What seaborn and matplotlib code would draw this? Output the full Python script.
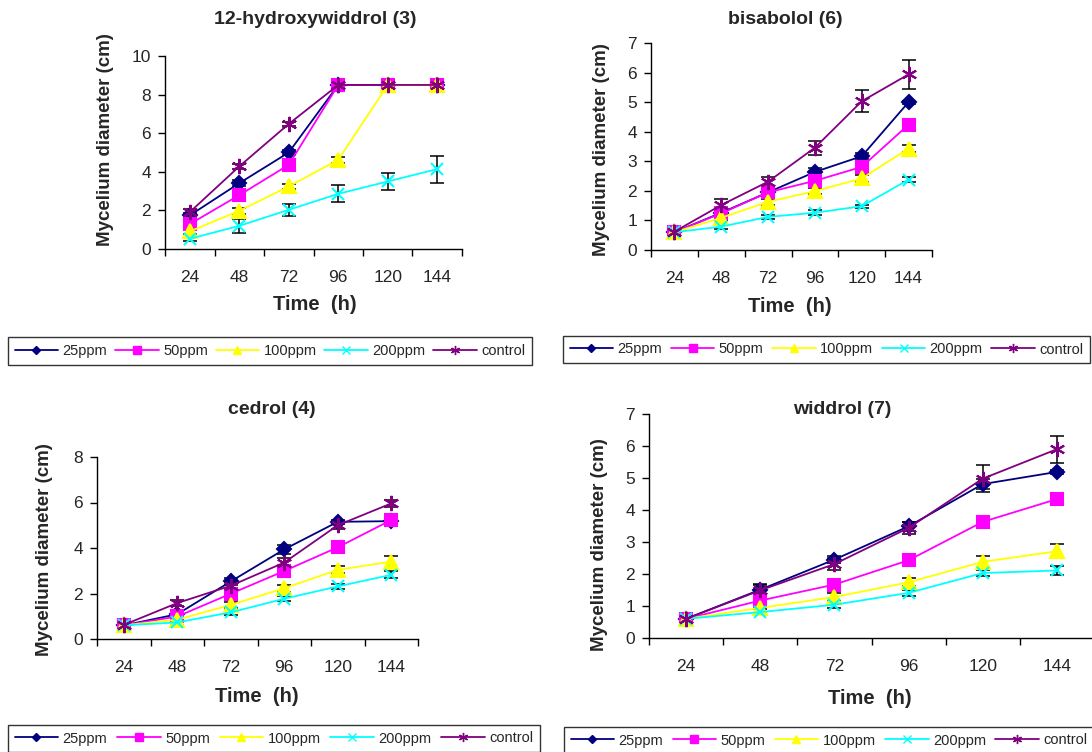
import numpy as np
import pandas as pd
import seaborn as sns
import matplotlib.pyplot as plt
from matplotlib.lines import Line2D

times = ['24', '48', '72', '96', '120', '144']
series = ['25ppm', '50ppm', '100ppm', '200ppm', 'control']
colors = ['#000080', '#FF00FF', '#FFFF00', '#00FFFF', '#800080']
markers = ['D', 's', '^', 'x', (6, 2, 0)]
msizes = [7.5, 8.5, 10, 9, 11]

# 12-hydroxywiddrol (3): rows follow `series`
hw_mean = [[1.74, 3.41, 5.00, 8.50, 8.50, 8.50],
           [1.29, 2.79, 4.36, 8.50, 8.50, 8.50],
           [0.91, 1.98, 3.24, 4.62, 8.50, 8.50],
           [0.53, 1.20, 2.03, 2.86, 3.50, 4.14],
           [1.91, 4.28, 6.48, 8.50, 8.50, 8.50]]
hw_err = [[0.15, 0.15, 0.15, 0.05, 0.05, 0.05],
          [0.15, 0.20, 0.30, 0.05, 0.05, 0.05],
          [0.15, 0.15, 0.15, 0.15, 0.05, 0.05],
          [0.10, 0.35, 0.32, 0.45, 0.42, 0.70],
          [0.15, 0.15, 0.10, 0.05, 0.05, 0.05]]

# bisabolol (6)
bis_mean = [[0.60, 1.26, 1.95, 2.64, 3.17, 5.00],
            [0.60, 1.24, 1.95, 2.34, 2.81, 4.24],
            [0.60, 1.09, 1.63, 1.99, 2.42, 3.43],
            [0.60, 0.79, 1.12, 1.26, 1.48, 2.38],
            [0.62, 1.52, 2.31, 3.46, 5.03, 5.94]]
bis_err = [[0.05, 0.10, 0.10, 0.12, 0.10, 0.05],
           [0.05, 0.10, 0.12, 0.10, 0.12, 0.08],
           [0.05, 0.08, 0.10, 0.10, 0.12, 0.12],
           [0.05, 0.08, 0.06, 0.08, 0.05, 0.08],
           [0.05, 0.21, 0.15, 0.24, 0.38, 0.48]]

# cedrol (4)
ced_mean = [[0.60, 1.09, 2.53, 3.94, 5.15, 5.18],
            [0.60, 0.99, 1.99, 2.99, 4.03, 5.23],
            [0.60, 0.85, 1.50, 2.23, 3.04, 3.40],
            [0.60, 0.73, 1.17, 1.77, 2.31, 2.82],
            [0.62, 1.58, 2.34, 3.36, 5.00, 5.96]]
ced_err = [[0.05, 0.10, 0.15, 0.20, 0.10, 0.10],
           [0.05, 0.10, 0.12, 0.15, 0.10, 0.10],
           [0.05, 0.10, 0.12, 0.15, 0.15, 0.27],
           [0.05, 0.10, 0.10, 0.10, 0.10, 0.15],
           [0.05, 0.12, 0.15, 0.20, 0.15, 0.15]]

# widdrol (7)
wid_mean = [[0.60, 1.51, 2.45, 3.49, 4.81, 5.19],
            [0.60, 1.17, 1.67, 2.43, 3.63, 4.34],
            [0.60, 0.94, 1.28, 1.74, 2.38, 2.71],
            [0.60, 0.81, 1.04, 1.41, 2.03, 2.11],
            [0.60, 1.49, 2.31, 3.44, 4.98, 5.90]]
wid_err = [[0.03, 0.15, 0.10, 0.15, 0.15, 0.05],
           [0.03, 0.15, 0.10, 0.08, 0.12, 0.10],
           [0.03, 0.15, 0.12, 0.12, 0.17, 0.22],
           [0.03, 0.10, 0.10, 0.10, 0.10, 0.15],
           [0.03, 0.20, 0.20, 0.20, 0.42, 0.42]]

W, H = 1092, 752

sns.set_style('ticks')
plt.rcParams['font.family'] = ['Liberation Sans', 'DejaVu Sans']

fig = plt.figure(figsize=(W / 100, H / 100), dpi=100)


def ftext(x, y, s, **kw):
    fig.text(x / W, 1 - y / H, s, ha='center', va='center', **kw)


# title, means, errors, ymax, ystep, axes box (x0, x1, ytop, ybot),
# title pos, ylabel pos, xlabel pos, legend box (x0, x1, ytop, ybot)
panels = [
    ('12-hydroxywiddrol (3)', hw_mean, hw_err, 10, 2, (165, 462, 56, 249),
     (315, 19), (105, 140), (315, 305), (8, 532, 336, 366)),
    ('bisabolol (6)', bis_mean, bis_err, 7, 1, (651, 932, 43, 250),
     (785, 19), (602, 150), (790, 307), (563, 1090, 333, 366)),
    ('cedrol (4)', ced_mean, ced_err, 8, 2, (97, 418, 457, 639),
     (272, 410), (45, 550), (257, 697), (8, 540, 726, 751)),
    ('widdrol (7)', wid_mean, wid_err, 7, 1, (649, 1094, 414, 638),
     (842, 410), (600, 545), (870, 698), (564, 1094, 725, 756)),
]

for title, mean, err, ymax, ystep, box, tpos, ypos, xpos, lbox in panels:
    x0, x1, yt, yb = box
    ax = fig.add_axes([x0 / W, 1 - yb / H, (x1 - x0) / W, (yb - yt) / H])
    ax.set_facecolor('white')
    pos = np.arange(len(times))
    for i, name in enumerate(series):
        df = pd.DataFrame({'pos': pos, 'value': mean[i]})
        ax.errorbar(pos, mean[i], yerr=err[i], fmt='none', ecolor='black',
                    elinewidth=1.1, capsize=5, capthick=1.1, zorder=2)
        sns.lineplot(data=df, x='pos', y='value', ax=ax, color=colors[i],
                     marker=markers[i], markersize=msizes[i],
                     markeredgecolor=colors[i], markeredgewidth=1.5,
                     linewidth=1.3, sort=False, legend=False, zorder=3)
    ax.set_xlim(-0.5, len(times) - 0.5)
    ax.set_ylim(0, ymax)
    ax.set_yticks(np.arange(0, ymax + 0.1, ystep))
    ax.set_xticks(np.arange(-0.5, len(times)), labels=[])
    ax.set_xticks(pos, labels=times, minor=True)
    ax.tick_params(axis='x', which='major', length=5, width=1, color='black', direction='out')
    ax.tick_params(axis='x', which='minor', length=0, pad=15, labelsize=12.5)
    ax.tick_params(axis='y', length=5, width=1, color='black', pad=5, labelsize=12.5)
    for s in ['top', 'right']:
        ax.spines[s].set_visible(False)
    for s in ['left', 'bottom']:
        ax.spines[s].set_color('black')
        ax.spines[s].set_linewidth(1)
    ax.set_xlabel('')
    ax.set_ylabel('')
    ftext(*tpos, title, fontsize=14, fontweight='bold')
    ftext(*ypos, 'Mycelium diameter (cm)', fontsize=13.5, fontweight='bold', rotation=90)
    ftext(*xpos, 'Time  (h)', fontsize=14.5, fontweight='bold')

    handles = [Line2D([], [], color=colors[i], marker=markers[i], markersize=msizes[i] * 0.6,
                      markeredgecolor=colors[i], linewidth=1.3) for i in range(len(series))]
    lx0, lx1, lyt, lyb = lbox
    leg = fig.legend(handles, series, loc='center', ncol=5, mode='expand',
                     bbox_to_anchor=(lx0 / W, 1 - lyb / H, (lx1 - lx0) / W, (lyb - lyt) / H),
                     fontsize=10.5, frameon=True, fancybox=False, edgecolor='black',
                     borderaxespad=0, borderpad=0.45, handlelength=3, handletextpad=0.3,
                     columnspacing=0.8)
    leg.get_frame().set_linewidth(1)

fig.savefig('out.png', dpi=100, facecolor='white')
